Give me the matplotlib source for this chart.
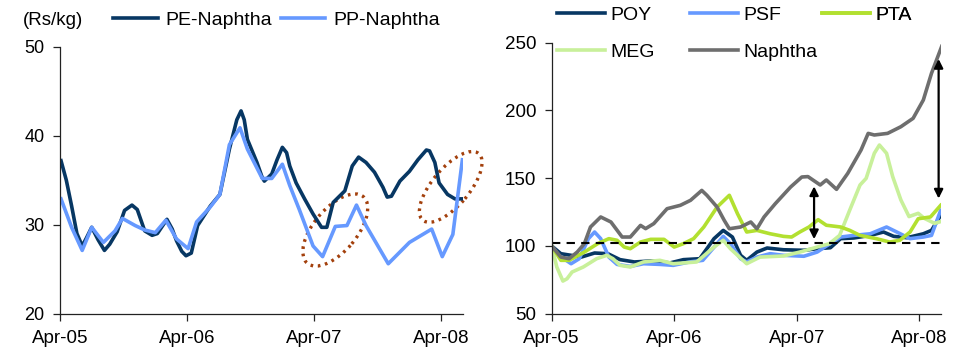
import numpy as np
import matplotlib
matplotlib.use("Agg")
import matplotlib.pyplot as plt
from matplotlib.patches import Ellipse
from matplotlib.transforms import ScaledTranslation

plt.rcParams['font.family'] = ['Liberation Sans', 'DejaVu Sans']

# x positions are months counted from Apr-05
tick_months = [0, 12, 24, 36]
tick_labels = ['Apr-05', 'Apr-06', 'Apr-07', 'Apr-08']

# Left panel: polymer spreads over naphtha (Rs/kg)
pe_month = [0.1, 0.6, 1.1, 1.6, 2.1, 2.5, 3.0, 3.6, 4.2, 4.7, 5.4, 6.1, 6.8, 7.3,
            8.0, 8.7, 9.2, 10.1, 10.6, 11.0, 11.5, 11.9, 12.4, 13.0, 14.2, 15.1,
            16.0, 16.7, 17.1, 17.4, 17.7, 18.6, 19.1, 19.3, 20.0, 20.5, 21.0,
            21.4, 21.7, 22.3, 23.1, 23.9, 24.7, 25.2, 25.8, 26.9, 27.6, 28.2,
            28.9, 29.7, 30.5, 30.9, 31.3, 32.1, 33.0, 33.8, 34.6, 34.9, 35.4,
            35.8, 36.6, 37.3, 38.0]
pe_naphtha = [37.2, 35.0, 32.1, 29.0, 27.6, 28.5, 29.7, 28.3, 27.1, 27.8, 29.2,
              31.6, 32.2, 31.7, 29.3, 28.8, 29.0, 30.6, 29.5, 28.2, 27.0, 26.5,
              26.8, 29.9, 32.1, 33.4, 38.5, 41.8, 42.8, 41.8, 39.6, 37.0, 35.3,
              34.9, 35.7, 37.3, 38.7, 38.1, 36.6, 34.7, 32.9, 31.2, 29.7, 29.7,
              32.5, 33.8, 36.6, 37.6, 37.0, 35.9, 34.2, 33.1, 33.2, 34.9, 36.0,
              37.3, 38.4, 38.3, 37.0, 34.7, 33.4, 32.9, 32.9]

pp_month = [0.1, 1.1, 2.1, 3.0, 4.1, 5.2, 5.9, 7.1, 8.0, 9.0, 10.0, 11.0, 12.1,
            12.9, 14.2, 15.1, 16.0, 17.0, 17.7, 19.1, 20.0, 21.0, 21.7, 22.6,
            23.9, 24.8, 26.0, 27.1, 28.0, 28.9, 31.0, 33.0, 35.1, 36.1, 37.1, 38.0]
pp_naphtha = [32.9, 29.7, 27.1, 29.7, 28.0, 29.3, 30.7, 29.9, 29.4, 29.1, 30.5,
              28.4, 27.3, 30.3, 32.0, 33.4, 39.0, 40.9, 38.5, 35.2, 35.2, 36.8,
              34.4, 31.7, 27.6, 26.4, 29.8, 29.9, 32.2, 29.9, 25.6, 28.0, 29.5,
              26.4, 28.9, 37.3]

# Right panel: price indices (Apr-05 = 100)
poy_month = [0, 0.9, 1.9, 2.9, 4.2, 5.5, 6.7, 8.1, 9.7, 11.6, 12.9, 14.5, 15.9,
             16.8, 17.7, 18.5, 19.1, 20.1, 21.1, 22.7, 24.7, 26.0, 27.3, 28.3,
             29.6, 31.2, 32.5, 33.5, 34.8, 36.4, 37.2, 38.1]
poy = [100, 94.3, 93.1, 91.8, 94.8, 94.3, 89.9, 88.2, 88.9, 87.5, 89.9, 90.6,
       105.4, 111.5, 106.6, 93.1, 89.4, 95.5, 98.5, 97.2, 96.8, 98.0, 98.7,
       105.4, 105.9, 107.8, 110.3, 107.1, 106.1, 109.0, 111.5, 122.6]

psf_month = [0, 0.7, 1.9, 2.7, 3.6, 4.2, 4.8, 5.6, 6.4, 7.7, 9.0, 10.6, 11.9,
             13.5, 14.8, 16.2, 16.8, 17.5, 18.5, 19.1, 20.1, 21.4, 22.7, 24.7,
             26.0, 27.0, 28.3, 29.6, 31.2, 32.8, 33.8, 35.1, 36.4, 37.2, 38.1]
psf = [100, 93.1, 86.9, 90.6, 105.4, 110.3, 105.4, 91.8, 86.4, 84.9, 86.9, 86.4,
       85.7, 88.2, 89.4, 101.7, 107.1, 101.7, 90.6, 88.2, 91.8, 94.3, 93.1, 92.4,
       95.5, 100.4, 106.6, 107.8, 109.0, 114.0, 110.3, 105.4, 106.6, 107.8, 126.3]

pta_month = [0, 0.9, 1.7, 3.2, 4.5, 5.6, 6.4, 7.1, 7.7, 8.7, 9.7, 11.0, 12.0,
             12.9, 13.9, 14.9, 16.2, 17.4, 18.2, 19.1, 20.1, 21.4, 22.7, 23.5,
             24.3, 25.2, 26.1, 26.9, 28.3, 29.2, 30.2, 31.8, 33.1, 34.1, 35.1,
             35.9, 37.1, 38.1]
pta = [100, 89.4, 89.4, 95.5, 101.7, 105.4, 104.2, 99.2, 98.0, 102.9, 104.9,
       104.9, 99.2, 101.7, 105.4, 114.0, 128.7, 137.4, 123.8, 110.3, 111.5, 109.0,
       107.1, 106.6, 110.3, 114.0, 119.4, 115.3, 114.0, 111.5, 107.8, 105.4,
       102.9, 104.2, 110.3, 120.1, 121.4, 130.0]

meg_month = [0, 0.5, 1.1, 1.5, 2.0, 3.1, 4.4, 5.4, 6.0, 6.7, 7.7, 9.0, 10.6,
             11.9, 14.2, 15.9, 16.8, 17.5, 19.1, 20.4, 22.7, 24.3, 26.0, 27.2,
             28.2, 29.2, 30.2, 30.8, 31.6, 32.1, 32.8, 33.4, 34.2, 35.0, 35.9,
             36.5, 37.5, 38.1]
meg = [100, 84.5, 74.1, 75.8, 80.8, 84.5, 90.6, 93.1, 90.6, 85.7, 84.5, 88.2,
       89.4, 86.9, 88.2, 99.2, 104.2, 98.0, 86.9, 91.8, 92.6, 95.5, 99.2, 101.7,
       107.8, 126.6, 145.0, 149.9, 168.4, 174.5, 168.4, 151.2, 134.0, 121.7,
       124.1, 120.4, 116.7, 118.0]

nap_month = [0, 0.9, 1.7, 2.5, 3.2, 3.8, 4.8, 5.8, 6.9, 7.7, 8.7, 9.2, 10.0,
             11.3, 12.6, 13.6, 14.7, 15.2, 16.2, 16.9, 17.4, 18.5, 19.5, 20.1,
             20.8, 21.9, 23.4, 24.5, 25.1, 26.3, 26.9, 27.9, 29.0, 30.3, 31.0,
             31.6, 32.9, 34.2, 35.4, 36.4, 37.2, 38.2]
naphtha = [100, 91.8, 90.6, 95.5, 101.7, 114.0, 121.4, 117.7, 106.6, 106.6,
           115.2, 112.8, 116.5, 127.5, 130.0, 133.7, 141.0, 137.4, 128.7, 118.9,
           112.7, 114.0, 117.7, 112.7, 121.4, 131.2, 143.5, 150.9, 151.2, 145.0,
           148.7, 141.8, 153.6, 170.8, 183.1, 181.9, 183.1, 188.0, 194.2, 207.7,
           227.4, 247.3]

base_level = 102
gap_2007 = (25.7, 105, 144)
gap_2008 = (37.9, 135, 238)

fig = plt.figure(figsize=(9.64, 3.54), dpi=100)
ax1 = fig.add_axes([0.0622, 0.1144, 0.418, 0.753])
ax2 = fig.add_axes([0.5723, 0.1138, 0.4035, 0.7655])

navy = '#073763'
blue = '#6699ff'
lime = '#b2e030'
pale = '#c8f09a'
grey = '#6e6e6e'

def style_axis(ax, ylabel_size):
    for side in ['top', 'right']:
        ax.spines[side].set_visible(False)
    for side in ['left', 'bottom']:
        ax.spines[side].set_color('#222222')
        ax.spines[side].set_linewidth(0.9)
    ax.set_xticks(tick_months)
    ax.set_xticklabels(tick_labels)
    ax.tick_params(axis='x', direction='out', length=5, width=0.9, pad=7,
                   labelsize=13.5, color='#222222')
    ax.tick_params(axis='y', direction='out', length=5, width=0.9, pad=6,
                   labelsize=ylabel_size, color='#222222')

# left panel
ax1.plot(pe_month, pe_naphtha, color=navy, lw=2.6, label='PE-Naphtha',
         solid_joinstyle='round')
ax1.plot(pp_month, pp_naphtha, color=blue, lw=2.6, label='PP-Naphtha',
         solid_joinstyle='round')
ax1.set_xlim(0, 38.05)
ax1.set_ylim(20, 50)
ax1.set_yticks([20, 30, 40, 50])
style_axis(ax1, 13)

# dotted rings round the 2007 and 2008 spreads, sized in inches
for cm, cv, w, h in [(26.0, 29.4, 0.87, 0.43), (36.9, 34.25, 0.87, 0.37)]:
    ring = Ellipse((0, 0), w, h, angle=50, fill=False, edgecolor='#a3400c',
                   lw=2.4, linestyle=(0, (0.8, 1.4)), clip_on=False,
                   transform=fig.dpi_scale_trans +
                   ScaledTranslation(cm, cv, ax1.transData))
    ax1.add_patch(ring)

fig.text(0.024, 0.943, '(Rs/kg)', fontsize=13.5, va='center', ha='left')
ax1.legend(loc='center left', bbox_to_anchor=(0.117, 0.9435),
           bbox_transform=fig.transFigure, ncol=2, frameon=False,
           fontsize=14, borderpad=0, borderaxespad=0, handlelength=2.3,
           handletextpad=0.4, columnspacing=0.45)

# right panel
lines = {}
lines['POY'], = ax2.plot(poy_month, poy, color=navy, lw=2.6, label='POY')
lines['PSF'], = ax2.plot(psf_month, psf, color=blue, lw=2.6, label='PSF')
lines['MEG'], = ax2.plot(meg_month, meg, color=pale, lw=2.6, label='MEG')
lines['PTA'], = ax2.plot(pta_month, pta, color=lime, lw=2.6, label='PTA')
lines['Naphtha'], = ax2.plot(nap_month, naphtha, color=grey, lw=2.6,
                             label='Naphtha')
ax2.axhline(base_level, color='black', lw=1.5, linestyle=(0, (4, 3)))
ax2.set_xlim(0, 38.1)
ax2.set_ylim(50, 250)
ax2.set_yticks([50, 100, 150, 200, 250])
style_axis(ax2, 13.5)

for xm, lo, hi in [gap_2007, gap_2008]:
    ax2.annotate('', xy=(xm, hi), xytext=(xm, lo),
                 arrowprops=dict(arrowstyle='<|-|>', color='black', lw=1.6,
                                 mutation_scale=13, shrinkA=0, shrinkB=0))

legend_cols = [(['POY', 'MEG'], 0.5778),
               (['PSF', 'Naphtha'], 0.7158),
               (['PTA'], 0.8527)]
for names, lx in legend_cols:
    leg = ax2.legend([lines[n] for n in names], names, loc='upper left',
                     bbox_to_anchor=(lx, 0.982), bbox_transform=fig.transFigure,
                     frameon=False, fontsize=14, borderpad=0, borderaxespad=0,
                     handlelength=2.45, handletextpad=0.3, labelspacing=1.0)
    ax2.add_artist(leg)

fig.savefig('out.png', dpi=100)
